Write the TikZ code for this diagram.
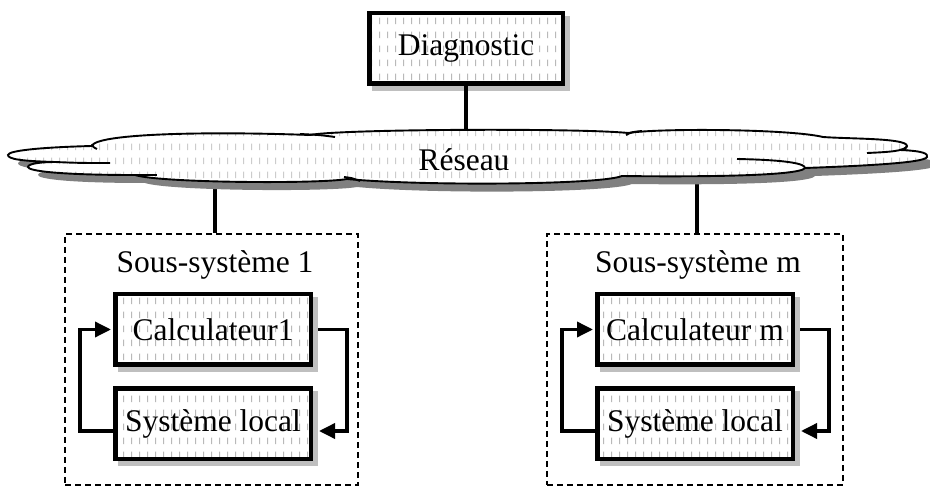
\documentclass[tikz,border=0pt]{standalone}
\usepackage{fontspec}
\setmainfont{Liberation Serif}
\usetikzlibrary{arrows.meta,calc,patterns}
\pgfdeclarepatternformonly{vdash}{\pgfqpoint{0pt}{0pt}}{\pgfqpoint{8pt}{14pt}}{\pgfqpoint{8pt}{14pt}}{%
  \pgfsetlinewidth{1.2pt}%
  \pgfpathmoveto{\pgfqpoint{4pt}{3pt}}\pgfpathlineto{\pgfqpoint{4pt}{10pt}}\pgfusepath{stroke}}
\tikzset{
  txt/.style={font=\fontsize{31.5}{36}\selectfont, inner sep=0pt},
  blk/.style={txt, draw, line width=4.5pt, minimum width=195.5pt, minimum height=70.5pt,
    preaction={fill=gray!50, draw=gray!50, transform canvas={xshift=5pt,yshift=-5pt}},
    preaction={fill=white}, pattern=vdash, pattern color=gray!55},
  dashbox/.style={draw, dashed, dash pattern=on 6pt off 4pt, line width=1.5pt, inner sep=0pt},
  link/.style={line width=3.5pt},
  arr/.style={line width=3.5pt, line join=miter, -{Triangle[length=16pt,width=15pt]}},
  cloudline/.style={line width=1.9pt},
  cloudpath/.style={insert path={
    (8,155) .. controls (8,150) and (50,147) .. (92,146)
    .. controls (95,134) and (200,131) .. (310,135)
    .. controls (340,129) and (580,128) .. (628,133)
    .. controls (660,128) and (790,129) .. (823,137)
    .. controls (850,139) and (907,138) .. (907,146)
    .. controls (907,148) and (903,150) .. (900,150)
    .. controls (925,151) and (928,154) .. (927,157)
    .. controls (925,163) and (860,166) .. (805,168)
    .. controls (800,176) and (700,177) .. (622,176)
    .. controls (600,185) and (420,186) .. (347,179)
    .. controls (320,184) and (160,183) .. (135,175)
    .. controls (60,175) and (28,171) .. (28,167)
    .. controls (28,163) and (45,162) .. (55,162)
    .. controls (20,161) and (8,159) .. (8,155) -- cycle}}
}
\begin{document}
\begin{tikzpicture}[x=1pt,y=-1pt]
\useasboundingbox (0,0) rectangle (930,489);

% nodes
\node[blk, minimum width=193.5pt] (diag) at (466,48.5) {Diagnostic};
\node[dashbox, minimum width=293pt, minimum height=251pt] (ss1) at (211.5,359.5) {};
\node[dashbox, minimum width=296pt, minimum height=251pt] (ssm) at (695,359.5) {};
\node[txt] (lab1) at (215,265) {Sous-système 1};
\node[txt] (labm) at (698,265) {Sous-système m};
\node[blk] (calc1) at (213,329.5) {Calculateur1};
\node[blk] (sys1) at (213,423.5) {Système local};
\node[blk] (calcm) at (695,329.5) {Calculateur m};
\node[blk] (sysm) at (695,423.5) {Système local};

% cloud anchor points
\coordinate (cloudtop) at (466,140);
\coordinate (cb1) at (215,175);
\coordinate (cbm) at (697,172);

% links to the cloud (drawn under it)
\draw[link] (diag.south) -- (cloudtop);
\draw[link] (cb1) -- (cb1 |- ss1.north);
\draw[link] (cbm) -- (cbm |- ssm.north);

% cloud
\fill[black!50, shift={(10,8)}, cloudpath];
\fill[white, cloudpath];
\path[pattern=vdash, pattern color=gray!40, cloudpath];
\draw[cloudline, cloudpath];
\draw[cloudline] (92,144) .. controls (93,147) .. (97,149);
\draw[cloudline] (300,134) .. controls (320,135) .. (335,137);
\draw[cloudline] (907,146) .. controls (905,151) and (890,152) .. (867,153);
\draw[cloudline] (737,159) .. controls (790,160) and (805,164) .. (805,168);
\draw[cloudline] (344,177) .. controls (352,178) .. (360,181);
\draw[cloudline] (55,162) .. controls (80,163) .. (110,163);
\draw[cloudline] (135,175) .. controls (145,175) .. (157,175);
\draw[cloudline] (642,131) .. controls (632,132) .. (626,135);
\node[txt] (net) at (464,160) {Réseau};

% feedback loops
\draw[arr, shorten >=2pt] ($(sys1.west)+(0,7.5)$) -| ($(calc1.west)+(-33,0)$) -- (calc1.west);
\draw[arr] ($(calc1.east)+(5,0)$) -| ($(sys1.east)+(34,7.5)$) -- ($(sys1.east)+(6,7.5)$);
\draw[arr, shorten >=2pt] ($(sysm.west)+(0,7.5)$) -| ($(calcm.west)+(-33,0)$) -- (calcm.west);
\draw[arr] ($(calcm.east)+(5,0)$) -| ($(sysm.east)+(34,7.5)$) -- ($(sysm.east)+(6,7.5)$);
\end{tikzpicture}
\end{document}
